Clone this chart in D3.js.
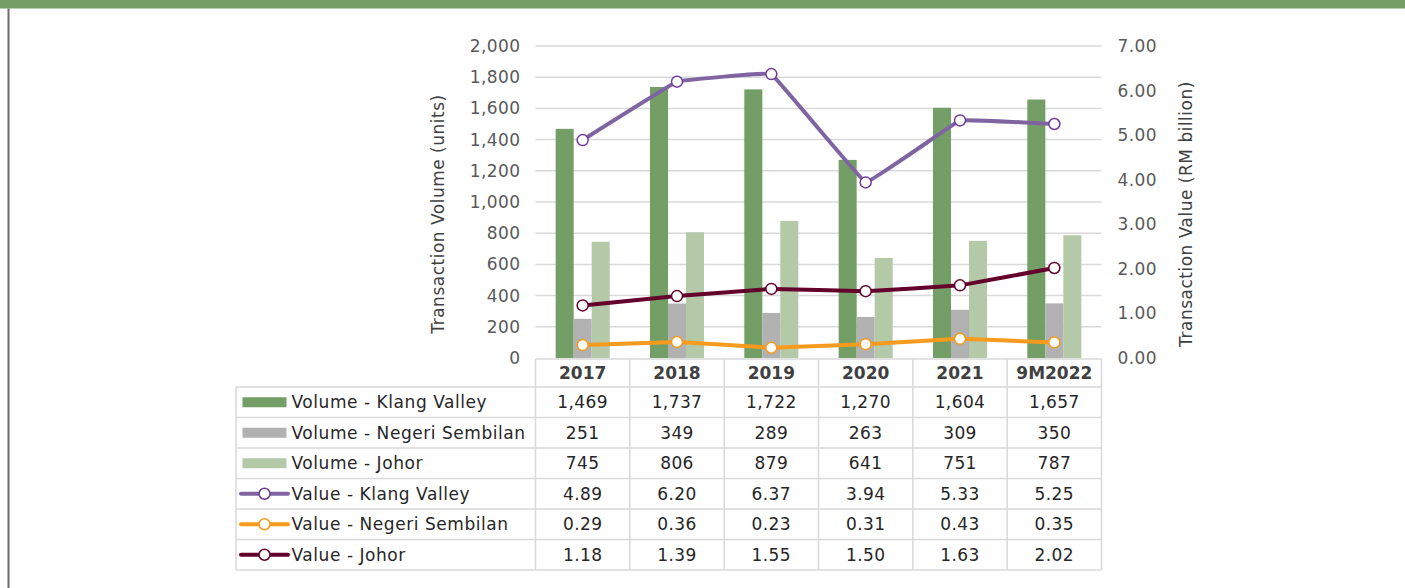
<!DOCTYPE html>
<html>
<head>
<meta charset="utf-8">
<script src="https://cdn.jsdelivr.net/npm/d3@7"></script>
<style>
  body { margin: 0; background: #fff; }
  svg { display: block; }
</style>
</head>
<body>
<div id="chart"></div>
<script>
// Datos
const years = ["2017", "2018", "2019", "2020", "2021", "9M2022"];

const volKlang = [1469, 1737, 1722, 1270, 1604, 1657];
const volNegeri = [251, 349, 289, 263, 309, 350];
const volJohor = [745, 806, 879, 641, 751, 787];

const valKlang = [4.89, 6.20, 6.37, 3.94, 5.33, 5.25];
const valNegeri = [0.29, 0.36, 0.23, 0.31, 0.43, 0.35];
const valJohor = [1.18, 1.39, 1.55, 1.50, 1.63, 2.02];

const leftTicks = [0, 200, 400, 600, 800, 1000, 1200, 1400, 1600, 1800, 2000];
const rightTicks = [0, 1, 2, 3, 4, 5, 6, 7];

const barSeries = [
  { name: "Volume - Klang Valley", values: volKlang, color: "#739e66" },
  { name: "Volume - Negeri Sembilan", values: volNegeri, color: "#b1b1b2" },
  { name: "Volume - Johor", values: volJohor, color: "#b3c9a8" }
];
const lineSeries = [
  { name: "Value - Klang Valley", values: valKlang, color: "#8064a2", marker: "#6f3a9c" },
  { name: "Value - Negeri Sembilan", values: valNegeri, color: "#f79b1f", marker: "#f79b1f" },
  { name: "Value - Johor", values: valJohor, color: "#63002b", marker: "#63002b" }
];

const W = 1405, H = 588;
const font = "'DejaVu Sans', 'Noto Sans', sans-serif";

const plot = { left: 535.5, right: 1101.5, top: 46, bottom: 358 };

const svg = d3.select("#chart")
  .append("svg")
  .attr("width", W)
  .attr("height", H)
  .style("font-family", font);

// marco
svg.append("rect").attr("x", 0).attr("y", 0).attr("width", W).attr("height", 8.5).attr("fill", "#739f66");
svg.append("line").attr("x1", 8.5).attr("x2", 8.5).attr("y1", 8.5).attr("y2", H)
  .attr("stroke", "#6b6b6b").attr("stroke-width", 2);

// escalas
const x0 = d3.scaleBand().domain(years).range([plot.left, plot.right]).padding(0);
const x1 = d3.scaleBand().domain(barSeries.map(d => d.name)).range([0, x0.bandwidth()])
  .paddingInner(0).paddingOuter(1.12);
const yL = d3.scaleLinear().domain([0, 2000]).range([plot.bottom, plot.top]);
const yR = d3.scaleLinear().domain([0, 7]).range([plot.bottom, plot.top]);

// grid
svg.append("g")
  .selectAll("line")
  .data(leftTicks.slice(1))
  .enter().append("line")
  .attr("x1", plot.left).attr("x2", plot.right)
  .attr("y1", d => yL(d)).attr("y2", d => yL(d))
  .attr("stroke", "#d9d9d9").attr("stroke-width", 1.5);

// ejes
const axL = svg.append("g")
  .attr("transform", `translate(${plot.left - 6},0)`)
  .call(d3.axisLeft(yL).tickValues(leftTicks).tickFormat(d3.format(",")).tickSize(0).tickPadding(9));
const axR = svg.append("g")
  .attr("transform", `translate(${plot.right + 6},0)`)
  .call(d3.axisRight(yR).tickValues(rightTicks).tickFormat(d3.format(".2f")).tickSize(0).tickPadding(10));
[axL, axR].forEach(a => {
  a.select(".domain").remove();
  a.selectAll("text").attr("font-size", 17).attr("fill", "#595959")
    .style("font-family", font).style("letter-spacing", "0.4px");
});

svg.append("text")
  .attr("transform", "translate(444,214) rotate(-90)")
  .attr("text-anchor", "middle")
  .attr("font-size", 17).attr("fill", "#404040")
  .style("letter-spacing", "0.5px")
  .text("Transaction Volume (units)");
svg.append("text")
  .attr("transform", "translate(1192,214) rotate(-90)")
  .attr("text-anchor", "middle")
  .attr("font-size", 17).attr("fill", "#404040")
  .style("letter-spacing", "0.5px")
  .text("Transaction Value (RM billion)");

// barras
barSeries.forEach(s => {
  svg.append("g")
    .selectAll("rect")
    .data(s.values)
    .enter().append("rect")
    .attr("x", (d, i) => x0(years[i]) + x1(s.name))
    .attr("y", d => yL(d))
    .attr("width", x1.bandwidth())
    .attr("height", d => plot.bottom - yL(d))
    .attr("fill", s.color);
});

// lineas
const cx = i => x0(years[i]) + x0.bandwidth() / 2;
lineSeries.forEach(s => {
  const line = d3.line()
    .x((d, i) => cx(i))
    .y(d => yR(d))
    .curve(d3.curveCardinal.tension(0.88));
  svg.append("path")
    .datum(s.values)
    .attr("d", line)
    .attr("fill", "none")
    .attr("stroke", s.color)
    .attr("stroke-width", 4)
    .attr("stroke-linejoin", "round");
  svg.append("g")
    .selectAll("circle")
    .data(s.values)
    .enter().append("circle")
    .attr("cx", (d, i) => cx(i))
    .attr("cy", d => yR(d))
    .attr("r", 5.5)
    .attr("fill", "#fff")
    .attr("stroke", s.marker)
    .attr("stroke-width", 1.5);
});

// tabla de datos
const tbl = { left: 236, headTop: 359, headBottom: 387, rowH: 30.5 };
const rows = barSeries.concat(lineSeries);
const rowY = i => tbl.headBottom + i * tbl.rowH;
const tableBottom = rowY(rows.length);
const grid = svg.append("g").attr("stroke", "#d9d9d9").attr("stroke-width", 1.5);

grid.append("line").attr("x1", plot.left).attr("x2", plot.right)
  .attr("y1", tbl.headTop).attr("y2", tbl.headTop);
d3.range(rows.length + 1).forEach(i => {
  grid.append("line").attr("x1", tbl.left).attr("x2", plot.right)
    .attr("y1", rowY(i)).attr("y2", rowY(i));
});
grid.append("line").attr("x1", tbl.left).attr("x2", tbl.left)
  .attr("y1", tbl.headBottom).attr("y2", tableBottom);
years.concat(["end"]).forEach((y, i) => {
  const x = i < years.length ? x0(y) : plot.right;
  grid.append("line").attr("x1", x).attr("x2", x)
    .attr("y1", tbl.headTop).attr("y2", tableBottom);
});

svg.append("g")
  .selectAll("text")
  .data(years)
  .enter().append("text")
  .attr("x", d => x0(d) + x0.bandwidth() / 2)
  .attr("y", (tbl.headTop + tbl.headBottom) / 2)
  .attr("dy", "0.36em")
  .attr("text-anchor", "middle")
  .attr("font-size", 17)
  .attr("font-weight", "bold")
  .attr("fill", "#404040")
  .text(d => d);

const fmtVol = d3.format(",");
const fmtVal = d3.format(".2f");
rows.forEach((s, r) => {
  const cy = rowY(r) + tbl.rowH / 2;
  const isBar = r < barSeries.length;
  // leyenda
  if (isBar) {
    svg.append("rect").attr("x", 242.5).attr("y", cy - 5).attr("width", 44).attr("height", 10)
      .attr("fill", s.color);
  } else {
    svg.append("line").attr("x1", 241).attr("x2", 288).attr("y1", cy).attr("y2", cy)
      .attr("stroke", s.color).attr("stroke-width", 4).attr("stroke-linecap", "round");
    svg.append("circle").attr("cx", 264.5).attr("cy", cy).attr("r", 5.5)
      .attr("fill", "#fff").attr("stroke", s.marker).attr("stroke-width", 1.5);
  }
  svg.append("text")
    .attr("x", 291.5).attr("y", cy).attr("dy", "0.36em")
    .attr("font-size", 17).attr("fill", "#262626")
    .style("letter-spacing", "0.55px")
    .text(s.name);
  svg.append("g")
    .selectAll("text")
    .data(s.values)
    .enter().append("text")
    .attr("x", (d, i) => cx(i))
    .attr("y", cy).attr("dy", "0.36em")
    .attr("text-anchor", "middle")
    .attr("font-size", 17).attr("fill", "#262626")
    .style("letter-spacing", "0.4px")
    .text(d => isBar ? fmtVol(d) : fmtVal(d));
});
</script>
</body>
</html>
